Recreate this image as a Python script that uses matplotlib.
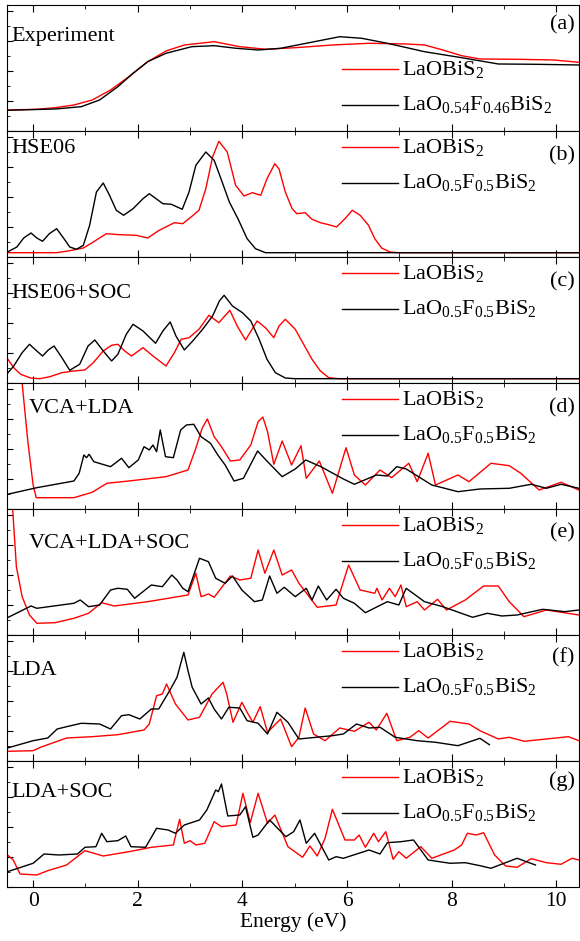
import numpy as np
import matplotlib
matplotlib.use("Agg")
import matplotlib.pyplot as plt
from matplotlib.ticker import MultipleLocator

plt.rcParams['font.family'] = ['Liberation Serif', 'DejaVu Serif']
plt.rcParams['mathtext.fontset'] = 'custom'
plt.rcParams['mathtext.rm'] = 'Liberation Serif'
plt.rcParams['mathtext.default'] = 'regular'

# ---- data (energy in eV, absorption in arbitrary units per panel) ----
# (a) Experiment
a_red_x = [-0.49, 0.07, 0.42, 0.78, 1.13, 1.48, 1.83, 2.19, 2.54, 2.89, 3.46, 3.95, 4.45, 5.01, 5.72, 6.42, 7.13, 7.48, 7.83, 8.19, 8.54, 9.25, 9.95, 10.43]
a_red_y = [21, 21.7, 23.3, 26, 31, 41, 54.3, 69.3, 80, 86, 89.3, 84.3, 81.7, 83.3, 86, 87.7, 87, 86, 81, 75.3, 72, 71.7, 71, 68.7]
a_blk_x = [-0.49, 0.42, 0.92, 1.27, 1.62, 1.91, 2.19, 2.54, 3.03, 3.46, 3.88, 4.3, 4.73, 5.22, 5.86, 6.28, 6.77, 7.48, 8.19, 8.89, 9.6, 10.43]
a_blk_y = [20.7, 22, 24.3, 31, 44.3, 57.7, 69.3, 77.7, 84.3, 85.3, 82.7, 81, 82.7, 87.7, 94.3, 92.7, 87.7, 79.3, 73.3, 67, 66.7, 66]

# (b) HSE06
b_red_x = [-0.49, 0.45, 0.7, 0.96, 1.15, 1.4, 1.65, 1.97, 2.19, 2.41, 2.7, 2.86, 3.02, 3.17, 3.3, 3.43, 3.55, 3.71, 3.87, 4.03, 4.19, 4.35, 4.47, 4.62, 4.7, 4.82, 4.95, 5.04, 5.2, 5.33, 5.49, 5.65, 5.8, 5.96, 6.1, 6.25, 6.41, 6.53, 6.66, 6.82, 6.98, 10.43]
b_red_y = [4.3, 4.3, 6.3, 9, 15, 23.3, 22.3, 21.7, 19, 26.7, 34.3, 33.3, 40, 46.7, 68.3, 100, 115.7, 105, 71.7, 61, 64.3, 61.7, 78.3, 93.3, 88, 65, 48.3, 43.3, 44.3, 37.7, 34.3, 32.3, 30, 38.3, 46.7, 41.7, 31.7, 18.3, 9, 5, 4.3, 4.3]
b_blk_x = [-0.49, -0.31, -0.18, -0.04, 0.07, 0.18, 0.31, 0.45, 0.58, 0.7, 0.83, 0.96, 1.08, 1.21, 1.34, 1.46, 1.59, 1.73, 1.91, 2.1, 2.22, 2.35, 2.48, 2.64, 2.85, 2.98, 3.11, 3.3, 3.46, 3.59, 3.75, 3.92, 4.09, 4.25, 4.44, 10.43]
b_blk_y = [5, 10, 19, 24, 19, 15.7, 23.3, 28.3, 19, 10, 7.7, 11.7, 31.7, 65, 74, 61.7, 46.7, 41.7, 48.3, 58.3, 63.3, 58.3, 53.3, 52.7, 47.7, 65, 91.7, 105, 96.7, 78.3, 55, 37.7, 18.3, 8.3, 4.3, 4.3]

# (c) HSE06+SOC
c_red_x = [-0.49, -0.37, -0.24, -0.05, 0.13, 0.32, 0.55, 0.77, 0.99, 1.15, 1.34, 1.5, 1.62, 1.75, 1.88, 2.1, 2.29, 2.54, 2.7, 2.83, 2.98, 3.17, 3.36, 3.55, 3.76, 3.9, 4.06, 4.28, 4.44, 4.6, 4.7, 4.82, 5.01, 5.17, 5.33, 5.49, 5.65, 5.84, 10.43]
c_red_y = [24.3, 15.3, 8.7, 5, 4.3, 6.3, 10.3, 12, 13, 20.3, 32, 37.7, 38.7, 32, 27, 35.3, 27, 17, 30.3, 43.7, 45.3, 53.7, 67.7, 60.3, 72.7, 57, 43, 62, 55.3, 45.3, 57, 63.7, 53.7, 38.7, 23.7, 12, 5.3, 4.3, 4.3]
c_blk_x = [-0.49, -0.37, -0.21, -0.07, 0.07, 0.18, 0.29, 0.4, 0.55, 0.7, 0.89, 1.05, 1.18, 1.34, 1.5, 1.62, 1.78, 1.91, 2.1, 2.34, 2.48, 2.62, 2.73, 2.89, 3.05, 3.24, 3.43, 3.56, 3.65, 3.81, 4.0, 4.16, 4.32, 4.47, 4.63, 4.82, 5.0, 10.43]
c_blk_y = [9.7, 17, 30.3, 38.7, 32, 27, 33, 37, 25.3, 12.7, 18.7, 37, 43, 32, 22, 28.7, 48.7, 58.7, 52, 39.7, 52, 61, 47, 33, 42, 53.7, 67, 82, 87.7, 77, 70.3, 62, 43.7, 23.7, 10.3, 5, 4.3, 4.3]

# (d) VCA+LDA
d_red_x = [-0.24, -0.21, -0.1, 0.0, 0.06, 0.78, 1.13, 1.41, 1.83, 2.54, 2.96, 3.11, 3.23, 3.33, 3.46, 3.6, 3.77, 3.95, 4.16, 4.3, 4.39, 4.48, 4.6, 4.76, 4.94, 5.12, 5.22, 5.47, 5.72, 5.98, 6.14, 6.35, 6.63, 6.85, 7.18, 7.34, 7.55, 7.69, 8.12, 8.33, 8.75, 9.1, 9.32, 9.67, 10.09, 10.43]
d_red_y = [140, 125.7, 67, 24, 11.3, 11.3, 16.7, 25.7, 28, 32.3, 39, 60.7, 80.7, 90, 72.3, 62.3, 48, 49, 64, 87.3, 92, 77.3, 44.7, 68, 44, 63.3, 30.7, 48, 15.7, 61.3, 34, 24, 39, 31.3, 45.7, 27.3, 55.7, 24, 34, 27.3, 45.7, 43.3, 35.7, 19, 26.7, 19]
d_blk_x = [-0.49, 0.07, 0.78, 0.88, 0.97, 1.02, 1.07, 1.16, 1.48, 1.69, 1.83, 2.01, 2.12, 2.22, 2.29, 2.36, 2.43, 2.53, 2.68, 2.82, 2.93, 3.07, 3.21, 3.39, 3.53, 3.67, 3.84, 4.02, 4.29, 4.45, 4.76, 5.01, 5.21, 5.5, 5.93, 6.14, 6.56, 6.77, 6.95, 7.13, 7.62, 8.12, 8.54, 9.1, 9.52, 9.81, 10.09, 10.43]
d_blk_y = [14.7, 21.3, 28, 35.7, 54, 51.3, 54.7, 47.3, 42.3, 50.7, 41.3, 49, 62.3, 59, 64, 57.3, 79, 52.3, 51.3, 79, 84, 84.7, 72.3, 65.7, 54, 44, 28, 30.7, 58, 49, 32.3, 40, 49, 42.3, 30, 24.7, 34, 33, 42.3, 40, 24, 17.3, 20, 20.7, 24.7, 20.7, 24.7, 20.7]

# (e) VCA+LDA+SOC
e_red_x = [-0.4, -0.39, -0.32, -0.21, -0.07, 0.07, 0.42, 0.78, 1.06, 1.31, 1.55, 2.19, 2.96, 3.11, 3.21, 3.35, 3.46, 3.77, 3.95, 4.16, 4.3, 4.43, 4.6, 4.76, 4.94, 5.08, 5.43, 5.79, 6.03, 6.25, 6.53, 6.57, 6.67, 6.81, 6.92, 7.03, 7.13, 7.34, 7.48, 7.73, 7.9, 8.26, 8.61, 8.89, 9.1, 9.38, 9.81, 10.43]
e_red_y = [135, 125, 68.3, 38.3, 20, 11.7, 12.3, 16.7, 21.7, 32.3, 29, 33.3, 40, 61.7, 38.3, 41, 37.7, 59, 55, 56.7, 85, 61.7, 85, 60, 65, 51.7, 27.7, 30, 70, 45, 41.7, 46.7, 35, 46.7, 38.3, 50, 28.3, 33.3, 25, 35.7, 25, 35, 49, 49, 33.3, 18.3, 25, 20]
e_blk_x = [-0.49, -0.04, 0.07, 0.78, 0.9, 1.06, 1.27, 1.48, 1.62, 1.8, 1.94, 2.26, 2.47, 2.65, 2.75, 2.86, 2.96, 3.18, 3.35, 3.49, 3.67, 3.81, 3.99, 4.23, 4.38, 4.52, 4.66, 4.8, 5.01, 5.22, 5.33, 5.45, 5.61, 5.79, 5.93, 6.14, 6.35, 6.77, 6.99, 7.13, 7.48, 7.83, 8.4, 8.68, 8.96, 9.25, 9.74, 10.16, 10.43]
e_blk_y = [17.3, 29, 26.7, 31.7, 35, 28.3, 30, 45, 46.7, 45.7, 36.7, 50, 48.3, 60, 55, 46.7, 43.3, 76.7, 73.3, 56.7, 51.7, 59, 45, 33.3, 35, 59, 41.7, 47.7, 38.3, 46.7, 35, 49, 35, 45.7, 36.7, 31.7, 22.3, 33.3, 30, 46.7, 33.3, 28.3, 17.7, 21.7, 19, 20, 25.7, 23.3, 25]

# (f) LDA
f_red_x = [-0.49, 0.0, 0.14, 0.64, 1.13, 1.62, 2.12, 2.22, 2.36, 2.47, 2.55, 2.72, 2.96, 3.18, 3.42, 3.63, 3.7, 3.82, 3.99, 4.09, 4.2, 4.34, 4.48, 4.73, 4.94, 5.08, 5.2, 5.36, 5.58, 5.86, 6.14, 6.42, 6.56, 6.76, 6.95, 7.2, 7.37, 7.55, 7.97, 8.33, 8.54, 8.89, 9.1, 9.39, 9.81, 10.23, 10.43]
f_red_y = [9.7, 10.3, 13.7, 23, 24.3, 26.3, 31, 37, 65.3, 67, 77, 57, 41, 43.7, 67, 78.7, 67, 38.7, 58.7, 48.7, 38.7, 54.3, 28.7, 42, 14.3, 23.7, 53, 27, 20.3, 33, 29.7, 38.7, 31, 47.7, 20.3, 23.7, 30.3, 23, 39.7, 37, 30.3, 22, 23.7, 19.7, 22, 24.3, 20.3]
f_blk_x = [-0.49, 0.0, 0.28, 0.46, 0.64, 0.92, 1.27, 1.48, 1.69, 1.83, 2.04, 2.26, 2.4, 2.61, 2.75, 2.88, 2.96, 3.04, 3.21, 3.35, 3.46, 3.6, 3.74, 3.95, 4.09, 4.3, 4.48, 4.66, 4.87, 5.08, 5.72, 5.93, 6.18, 6.42, 6.63, 6.92, 7.34, 7.69, 8.12, 8.54, 8.72]
f_blk_y = [13, 20.3, 23, 32, 34.3, 37.7, 37, 32, 45.3, 46.3, 42, 52, 52, 70.3, 83.7, 108.7, 90.3, 73.7, 57, 63, 52, 42, 53.7, 53, 40.3, 37.7, 27, 48.7, 38.7, 22, 25.3, 27, 37, 33, 33.7, 23.7, 20.3, 18.7, 15.3, 22.7, 16.3]

# (g) LDA+SOC
g_red_x = [-0.49, -0.38, -0.25, 0.07, 0.28, 0.64, 0.99, 1.34, 1.83, 2.26, 2.68, 2.8, 2.89, 3.0, 3.11, 3.28, 3.46, 3.6, 3.88, 4.01, 4.15, 4.3, 4.48, 4.62, 4.87, 5.15, 5.29, 5.43, 5.58, 5.72, 5.96, 6.14, 6.23, 6.35, 6.51, 6.6, 6.74, 6.88, 6.99, 7.13, 7.41, 7.62, 8.05, 8.19, 8.3, 8.47, 8.61, 8.82, 9.03, 9.25, 9.52, 9.81, 10.09, 10.3, 10.43]
g_red_y = [32, 27, 13, 12, 16.3, 22, 36.3, 31, 35.3, 39.7, 42, 67.7, 43.7, 46.3, 42, 43.7, 65.3, 60.3, 62, 93.7, 64.3, 93.7, 63.7, 72, 40.3, 29.7, 41, 31, 48.7, 77.7, 47, 47, 52, 39.7, 53.7, 45.3, 55.3, 27.7, 35.3, 28.7, 40.3, 28.7, 37, 42, 53.7, 52, 54.3, 32, 21, 19.7, 28.3, 24.3, 22.7, 28.7, 27]
g_blk_x = [-0.49, 0.0, 0.21, 0.49, 0.85, 0.99, 1.2, 1.31, 1.41, 1.62, 1.77, 1.87, 2.15, 2.36, 2.58, 2.72, 2.89, 3.18, 3.32, 3.49, 3.54, 3.6, 3.72, 3.95, 4.06, 4.2, 4.3, 4.52, 4.83, 4.98, 5.1, 5.22, 5.38, 5.65, 5.79, 5.93, 6.42, 6.63, 6.77, 7.03, 7.27, 7.55, 7.97, 8.26, 8.54, 8.75, 9.25, 9.6]
g_blk_y = [15.3, 23.7, 33, 32, 33, 39.7, 40.3, 53.7, 45.3, 46.3, 51, 40.3, 39.7, 58.7, 57, 53.7, 62, 67, 77, 97, 95.3, 103, 71, 72, 80.3, 49.7, 52, 67, 50.3, 55.3, 67, 43.7, 53.7, 27, 30.3, 28.7, 37, 33, 44.3, 45.3, 47, 27, 23.7, 24.3, 21.3, 18.7, 28.7, 22]

methods = ['Experiment', 'HSE06', 'HSE06+SOC', 'VCA+LDA', 'VCA+LDA+SOC', 'LDA', 'LDA+SOC']
letters = ['(a)', '(b)', '(c)', '(d)', '(e)', '(f)', '(g)']
red_label = r'LaOBiS$_2$'
blk_labels = [r'LaO$_{0.54}$F$_{0.46}$BiS$_2$'] + [r'LaO$_{0.5}$F$_{0.5}$BiS$_2$'] * 6

red_data = [(a_red_x, a_red_y), (b_red_x, b_red_y), (c_red_x, c_red_y), (d_red_x, d_red_y),
            (e_red_x, e_red_y), (f_red_x, f_red_y), (g_red_x, g_red_y)]
blk_data = [(a_blk_x, a_blk_y), (b_blk_x, b_blk_y), (c_blk_x, c_blk_y), (d_blk_x, d_blk_y),
            (e_blk_x, e_blk_y), (f_blk_x, f_blk_y), (g_blk_x, g_blk_y)]

# label placement (axes fractions)
label_pos = [(0.007, 0.75), (0.007, 0.86), (0.007, 0.71), (0.038, 0.80), (0.038, 0.73), (0.007, 0.72), (0.007, 0.75)]
letter_y = [0.84, 0.80, 0.80, 0.80, 0.81, 0.82, 0.84]

fs = 16

fig, axes = plt.subplots(7, 1, figsize=(5.8, 9.41), dpi=100, sharex=True)
fig.subplots_adjust(left=0.012, right=0.998, top=0.9947, bottom=0.0574, hspace=0)

for i, ax in enumerate(axes):
    rx, ry = red_data[i]
    kx, ky = blk_data[i]
    ax.plot(rx, ry, color='red', lw=1.0)
    ax.plot(kx, ky, color='black', lw=1.0)
    ax.set_xlim(-0.5, 10.43)
    ax.set_ylim(0, 126)

    # legend drawn by hand to match the layout
    if i == 0:
        ly1, ly2 = 0.49, 0.21
    else:
        ly1, ly2 = 0.87, 0.59
    ax.plot([0.585, 0.683], [ly1, ly1], transform=ax.transAxes, color='red', lw=1.0)
    ax.plot([0.585, 0.683], [ly2, ly2], transform=ax.transAxes, color='black', lw=1.0)
    ax.text(0.69, ly1, red_label, transform=ax.transAxes, fontsize=fs, va='center')
    ax.text(0.69, ly2, blk_labels[i], transform=ax.transAxes, fontsize=fs, va='center')

    ax.text(label_pos[i][0], label_pos[i][1], methods[i], transform=ax.transAxes,
            fontsize=fs, va='center', ha='left')
    ax.text(0.993, letter_y[i], letters[i], transform=ax.transAxes,
            fontsize=fs, va='center', ha='right')

    ax.xaxis.set_major_locator(MultipleLocator(2))
    ax.xaxis.set_minor_locator(MultipleLocator(1))
    ax.yaxis.set_major_locator(MultipleLocator(30))
    ax.yaxis.set_minor_locator(MultipleLocator(15))
    ax.tick_params(axis='x', which='both', direction='in', top=True, bottom=True)
    ax.tick_params(axis='x', which='major', length=5)
    ax.tick_params(axis='x', which='minor', length=3)
    ax.tick_params(axis='y', which='both', direction='in', left=True, right=False, labelleft=False)
    ax.tick_params(axis='y', which='major', length=4)
    ax.tick_params(axis='y', which='minor', length=2.5)

axes[-1].tick_params(axis='x', labelsize=15.5)
axes[-1].set_xlabel('Energy (eV)', fontsize=15.5, labelpad=1)

plt.savefig('out.png', dpi=100)
